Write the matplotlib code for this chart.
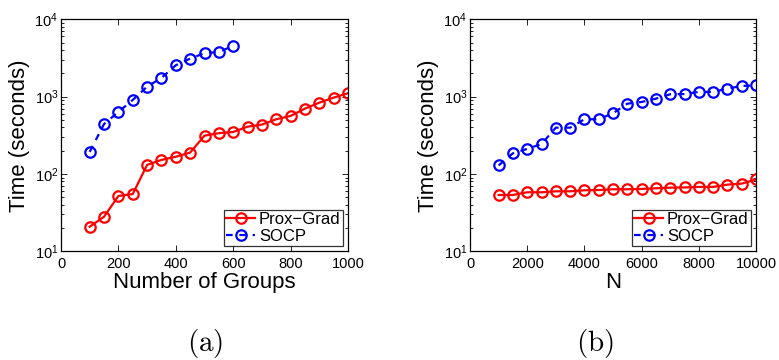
import matplotlib
matplotlib.use("Agg")
import matplotlib.pyplot as plt
from matplotlib.ticker import LogLocator, NullFormatter, FixedLocator

plt.rcParams['font.family'] = ['Liberation Sans', 'DejaVu Sans']
plt.rcParams['mathtext.fontset'] = 'cm'

# (a) Number of groups
groups = [100, 150, 200, 250, 300, 350, 400, 450, 500, 550, 600, 650, 700, 750, 800, 850, 900, 950, 1000]
prox_a = [20.8, 28, 52, 55, 131, 152, 167, 189, 313, 337, 349, 409, 435, 510, 563, 700, 836, 970, 1107]
groups_socp = [100, 150, 200, 250, 300, 350, 400, 450, 500, 550, 600]
socp_a = [193, 443, 634, 906, 1346, 1745, 2546, 3104, 3640, 3784, 4529]

# (b) N
N_vals = [1000, 1500, 2000, 2500, 3000, 3500, 4000, 4500, 5000, 5500, 6000, 6500, 7000, 7500, 8000, 8500, 9000, 9500, 10000]
prox_b = [53.5, 53.5, 58, 58, 59.7, 59.7, 61.5, 62, 63.4, 63.4, 64, 65.3, 66.5, 67, 68, 68, 72.8, 75, 85]
socp_b = [129, 185, 211, 244, 397, 397, 510, 510, 610, 811, 853, 942, 1073, 1080, 1151, 1151, 1271, 1374, 1403]

xticks_a = [0, 200, 400, 600, 800, 1000]
xticks_b = [0, 2000, 4000, 6000, 8000, 10000]

fig = plt.figure(figsize=(7.79, 3.6), dpi=100)
ax1 = fig.add_axes([61/779, 1-251.3/360, 287/779, 232/360])
ax2 = fig.add_axes([470/779, 1-251.3/360, 286/779, 232/360])

def style(ax, xticks, xmax, xlabel):
    ax.set_yscale('log')
    ax.set_ylim(10, 1e4)
    ax.set_xlim(0, xmax)
    ax.xaxis.set_major_locator(FixedLocator(xticks))
    ax.set_xticklabels([str(t) for t in xticks])
    ax.yaxis.set_major_locator(LogLocator(base=10, numticks=10))
    ax.yaxis.set_minor_locator(LogLocator(base=10, subs=range(2, 10), numticks=10))
    ax.yaxis.set_minor_formatter(NullFormatter())
    ax.tick_params(which='both', direction='in', top=True, right=True, labelsize=10.5, width=0.6)
    ax.tick_params(which='major', length=4)
    ax.tick_params(which='minor', length=2)
    ax.tick_params(axis='x', pad=4)
    ax.tick_params(axis='y', pad=2)
    for s in ax.spines.values():
        s.set_linewidth(0.9)
    ax.set_xlabel(xlabel, fontsize=16, labelpad=1)
    ax.set_ylabel('Time (seconds)', fontsize=16, labelpad=3)

ax1.plot(groups, prox_a, '-o', color='#ff0000', lw=1.6, ms=7.5, mfc='none', mew=1.6, label='Prox\u2212Grad')
ax1.plot(groups_socp, socp_a, '--o', color='#0000ff', lw=1.6, ms=7.5, mfc='none', mew=1.6, label='SOCP', dashes=(3, 3))
style(ax1, xticks_a, 1000, 'Number of Groups')

ax2.plot(N_vals, prox_b, '-o', color='#ff0000', lw=1.6, ms=7.5, mfc='none', mew=1.6, label='Prox\u2212Grad')
ax2.plot(N_vals, socp_b, '--o', color='#0000ff', lw=1.6, ms=7.5, mfc='none', mew=1.6, label='SOCP', dashes=(3, 3))
style(ax2, xticks_b, 10000, 'N')

for ax in (ax1, ax2):
    leg = ax.legend(loc='lower right', prop={'size': 12}, frameon=True, fancybox=False,
                    edgecolor='black', handlelength=1.7, handletextpad=0.25,
                    borderpad=0.15, labelspacing=0.1, borderaxespad=0.3)
    leg.get_frame().set_linewidth(0.9)

fig.text(205/779, 1-344/360, r'$\mathrm{(a)}$', fontsize=21, ha='center', va='center')
fig.text(595/779, 1-344/360, r'$\mathrm{(b)}$', fontsize=21, ha='center', va='center')

fig.savefig('out.png', dpi=100)
